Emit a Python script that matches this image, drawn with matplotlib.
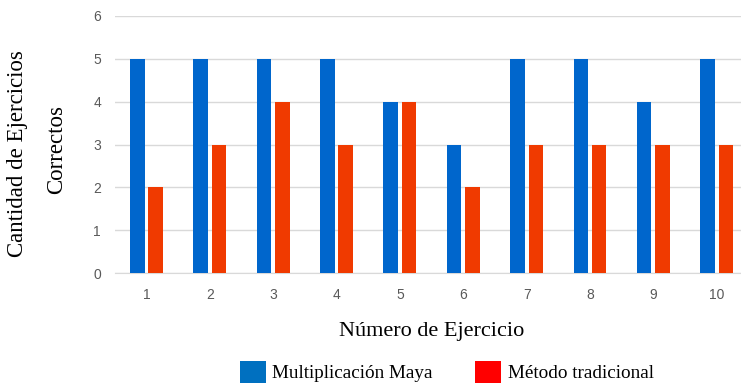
import numpy as np
import matplotlib
matplotlib.use("Agg")
import matplotlib.pyplot as plt
from matplotlib.patches import Patch

# Correct exercises per exercise number, by method
ejercicios = ['1', '2', '3', '4', '5', '6', '7', '8', '9', '10']
maya = [5, 5, 5, 5, 4, 3, 5, 5, 4, 5]
tradicional = [2, 3, 4, 3, 4, 2, 3, 3, 3, 3]

BAR_BLUE = '#0066CC'
BAR_RED = '#F03A00'
LEG_BLUE = '#0070C0'
LEG_RED = '#FF0000'
TICK_GREY = '#595959'
SERIF = 'Liberation Serif'

fig = plt.figure(figsize=(7.41, 3.89), dpi=100)
ax = fig.add_axes([0.155, 0.298, 0.855, 0.661])

x = np.arange(1, len(ejercicios) + 1)
w = 0.23
ax.bar(x - 0.145, maya, width=w, color=BAR_BLUE, zorder=3)
ax.bar(x + 0.145, tradicional, width=w, color=BAR_RED, zorder=3)

ax.set_xlim(0.5, 10.5)
ax.set_ylim(0, 6)
ax.set_yticks(range(0, 7))
ax.set_xticks(x)
ax.set_xticklabels(ejercicios)
ax.yaxis.grid(True, color='#D9D9D9', linewidth=1, zorder=0)
ax.tick_params(axis='both', length=0, labelsize=10, colors=TICK_GREY,
               labelfontfamily='Liberation Sans')
ax.tick_params(axis='x', pad=11)
ax.tick_params(axis='y', pad=10)
for side in ['top', 'right', 'left']:
    ax.spines[side].set_visible(False)
ax.spines['bottom'].set_color('#D9D9D9')

ax.set_xlabel('Número de Ejercicio', fontsize=16, family=SERIF, labelpad=14)
fig.text(0.024, 0.605, 'Cantidad de Ejercicios', rotation=90, fontsize=16.5,
         family=SERIF, ha='center', va='center')
fig.text(0.077, 0.615, 'Correctos', rotation=90, fontsize=16.5,
         family=SERIF, ha='center', va='center')

handles = [Patch(facecolor=LEG_BLUE), Patch(facecolor=LEG_RED)]
fig.legend(handles, ['Multiplicación Maya', 'Método tradicional'],
           loc='center', bbox_to_anchor=(0.603, 0.044), ncol=2, frameon=False,
           prop={'family': SERIF, 'size': 13.8}, handlelength=1.35,
           handleheight=1.35, handletextpad=0.36, columnspacing=2.2)

fig.savefig('out.png', dpi=100)
